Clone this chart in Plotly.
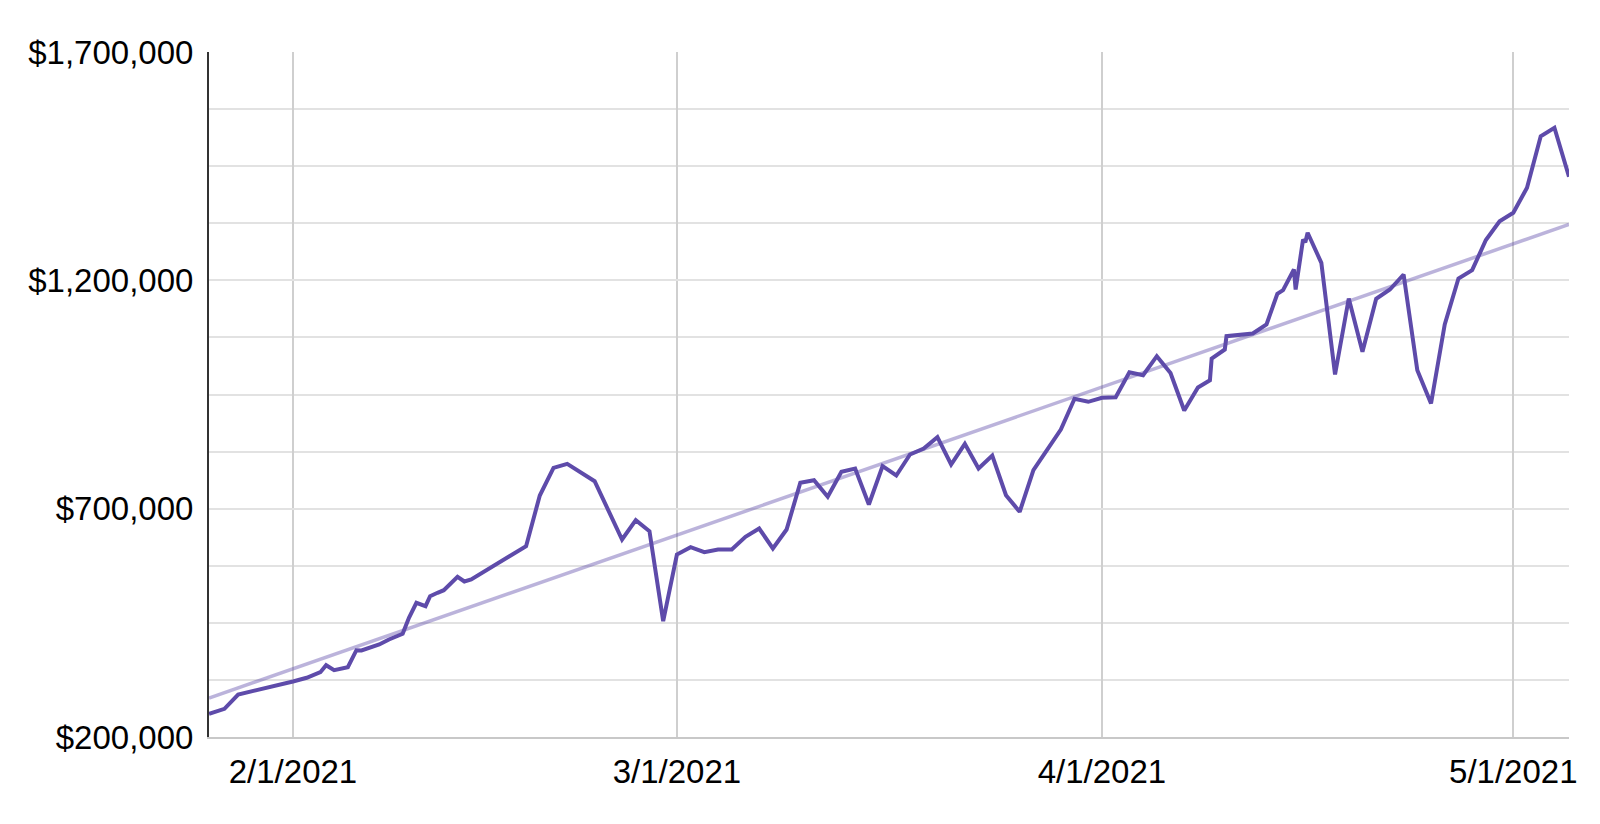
import plotly.graph_objects as go

# Portfolio value series
dates = [
    "2021-01-25 21:00", "2021-01-27", "2021-01-28", "2021-01-29", "2021-01-30",
    "2021-01-31", "2021-02-01", "2021-02-02", "2021-02-03", "2021-02-03 10:00",
    "2021-02-04", "2021-02-05", "2021-02-05 09:00", "2021-02-05 15:00", "2021-02-06",
    "2021-02-07 07:00", "2021-02-08", "2021-02-09", "2021-02-09 11:00", "2021-02-10",
    "2021-02-10 16:00", "2021-02-11", "2021-02-11 13:00", "2021-02-12", "2021-02-13",
    "2021-02-13 12:00", "2021-02-14", "2021-02-18", "2021-02-19", "2021-02-20",
    "2021-02-21", "2021-02-23", "2021-02-25", "2021-02-26", "2021-02-27",
    "2021-02-28", "2021-03-01", "2021-03-02", "2021-03-03", "2021-03-04",
    "2021-03-05", "2021-03-06", "2021-03-07", "2021-03-08", "2021-03-09",
    "2021-03-10", "2021-03-11", "2021-03-12", "2021-03-13", "2021-03-14",
    "2021-03-15", "2021-03-16", "2021-03-17", "2021-03-18", "2021-03-19",
    "2021-03-20", "2021-03-21", "2021-03-22", "2021-03-23", "2021-03-24",
    "2021-03-25", "2021-03-26", "2021-03-27", "2021-03-28", "2021-03-29",
    "2021-03-30", "2021-03-31", "2021-04-01", "2021-04-02", "2021-04-03",
    "2021-04-04", "2021-04-05", "2021-04-06", "2021-04-07", "2021-04-08",
    "2021-04-08 21:00", "2021-04-09", "2021-04-09 23:00", "2021-04-10 02:00", "2021-04-12",
    "2021-04-13", "2021-04-13 19:00", "2021-04-14 05:00", "2021-04-15", "2021-04-15 03:00",
    "2021-04-15 16:00", "2021-04-15 20:00", "2021-04-16", "2021-04-17", "2021-04-18",
    "2021-04-19", "2021-04-20", "2021-04-21", "2021-04-22", "2021-04-23",
    "2021-04-24", "2021-04-25", "2021-04-26", "2021-04-27", "2021-04-28",
    "2021-04-29", "2021-04-30", "2021-05-01", "2021-05-02", "2021-05-03",
    "2021-05-04", "2021-05-05 01:30",
]

values = [
    250800, 261750, 293070, 300290, 307740,
    312780, 321530, 329640, 341900, 357230,
    346280, 352850, 373430, 390080, 389420,
    402560, 413510, 425990, 461020, 493870,
    486430, 508320, 515770, 521460, 550810,
    540510, 544890, 617810, 728840, 789490,
    798250, 760150, 632490, 674750, 650660,
    453580, 599640, 615620, 604670, 610590,
    610590, 638400, 656570, 612780, 654380,
    756650, 762340, 725990, 780740, 787960,
    709130, 793000, 772630, 818620, 831760,
    856500, 796720, 842050, 787960, 816430,
    729490, 693140, 784240, 829570, 873360,
    940590, 934020, 942780, 944090, 998840,
    992270, 1033880, 997090, 914970, 965340,
    981320, 1028840, 1048550, 1077670, 1083580,
    1103290, 1170520, 1178400, 1223730, 1179940,
    1289430, 1283510, 1304100, 1238400, 993800,
    1160230, 1043510, 1159570, 1179940, 1212780,
    1003220, 930300, 1103290, 1204020, 1222200,
    1288330, 1329500, 1347890, 1402640, 1515630,
    1534030, 1426730,
]

# Trend line end points
trend_dates = ["2021-01-25 21:00", "2021-05-05 01:30"]
trend_values = [285400, 1322300]

# Axis ticks
x_tick_vals = ["2021-02-01", "2021-03-01", "2021-04-01", "2021-05-01"]
x_tick_text = ["2/1/2021", "3/1/2021", "4/1/2021", "5/1/2021"]
y_tick_vals = [200000, 700000, 1200000, 1700000]
y_tick_text = ["$200,000", "$700,000", "$1,200,000", "$1,700,000"]

fig = go.Figure()
fig.add_trace(go.Scatter(
    x=trend_dates, y=trend_values, mode="lines",
    line=dict(color="rgba(94,75,170,0.42)", width=3.5),
    hoverinfo="skip", showlegend=False,
))
fig.add_trace(go.Scatter(
    x=dates, y=values, mode="lines",
    line=dict(color="#5E4BAA", width=4),
    showlegend=False,
))

font_family = "Liberation Sans, Arial, Helvetica, sans-serif"

fig.update_layout(
    width=1584, height=808,
    margin=dict(l=201, r=23, t=44, b=79),
    paper_bgcolor="white", plot_bgcolor="white",
    font=dict(family=font_family, size=33, color="#000000"),
    showlegend=False,
)
fig.update_xaxes(
    range=["2021-01-25 21:00", "2021-05-05 01:30"],
    tickvals=x_tick_vals, ticktext=x_tick_text,
    showgrid=True, gridcolor="#cfcfcf", gridwidth=1.5,
    showline=True, linecolor="#c8c8c8", linewidth=2,
    ticks="", ticklabelstandoff=4,
    zeroline=False,
    tickfont=dict(family=font_family, size=33, color="#000000"),
)
fig.update_yaxes(
    range=[200000, 1700000],
    tickvals=y_tick_vals, ticktext=y_tick_text,
    showgrid=True, gridcolor="#e2e2e2", gridwidth=1.5,
    minor=dict(tick0=200000, dtick=125000, showgrid=True, gridcolor="#e2e2e2", gridwidth=1.5),
    showline=True, linecolor="#333333", linewidth=2,
    ticks="", ticklabelstandoff=7,
    zeroline=False,
    tickfont=dict(family=font_family, size=33, color="#000000"),
)

fig.write_html("out.html")
